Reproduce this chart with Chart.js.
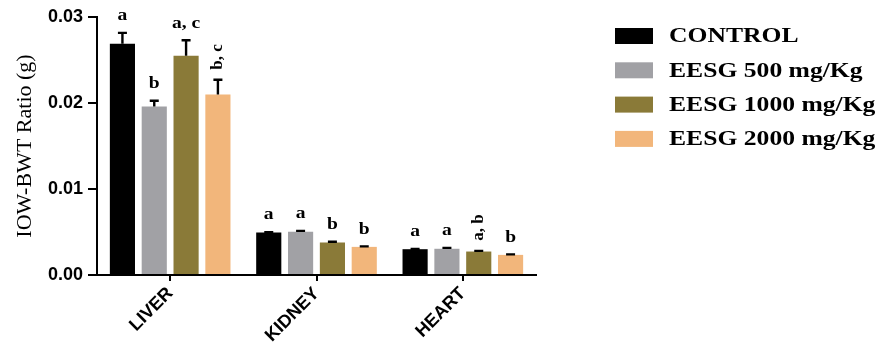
<!DOCTYPE html>
<html><head><meta charset="utf-8">
<script src="https://cdn.jsdelivr.net/npm/chart.js@4.4.0/dist/chart.umd.min.js"></script>
<style>html,body{margin:0;padding:0;background:#fff}#wrap{width:877px;height:352px;position:relative}</style>
</head><body><div id="wrap"><canvas id="c" width="877" height="352"></canvas></div>
<script>
const categories = ['LIVER', 'KIDNEY', 'HEART'];
const seriesNames = ['CONTROL', 'EESG 500 mg/Kg', 'EESG 1000 mg/Kg', 'EESG 2000 mg/Kg'];
const control  = [0.0269, 0.00495, 0.00300];
const eesg500  = [0.0196, 0.00503, 0.00305];
const eesg1000 = [0.0255, 0.00378, 0.00273];
const eesg2000 = [0.0210, 0.00327, 0.00234];
const controlErr  = [0.00125, 0.00004, 0.00003];
const eesg500Err  = [0.00066, 0.00010, 0.00010];
const eesg1000Err = [0.00180, 0.00008, 0.00008];
const eesg2000Err = [0.00170, 0.00006, 0.00006];
const controlSig  = ['a', 'a', 'a'];
const eesg500Sig  = ['b', 'a', 'a'];
const eesg1000Sig = ['a, c', 'b', 'a, b'];
const eesg2000Sig = ['b, c', 'b', 'b'];
const yTicks = [0, 0.01, 0.02, 0.03];

const colors = ['#000000', '#a1a1a5', '#8a7a38', '#f2b67b'];
const rotated = {'3-0': true, '2-2': true};
const values = [control, eesg500, eesg1000, eesg2000];
const errs = [controlErr, eesg500Err, eesg1000Err, eesg2000Err];
const sigs = [controlSig, eesg500Sig, eesg1000Sig, eesg2000Sig];

const datasets = seriesNames.map((n, i) => ({
  label: n, data: values[i], backgroundColor: colors[i], borderWidth: 0,
  errors: errs[i], sig: sigs[i],
  categoryPercentage: 0.87, barPercentage: 0.79
}));

const extras = {
  id: 'extras',
  afterDatasetsDraw(chart) {
    const ctx = chart.ctx, y = chart.scales.y;
    chart.data.datasets.forEach((ds, di) => {
      const meta = chart.getDatasetMeta(di);
      meta.data.forEach((bar, i) => {
        const top = y.getPixelForValue(ds.data[i]);
        const et = y.getPixelForValue(ds.data[i] + ds.errors[i]);
        ctx.save();
        ctx.strokeStyle = '#000'; ctx.lineWidth = 2.4;
        ctx.beginPath();
        ctx.moveTo(bar.x, top); ctx.lineTo(bar.x, et);
        ctx.moveTo(bar.x - 4.5, et); ctx.lineTo(bar.x + 4.5, et);
        ctx.stroke();
        ctx.fillStyle = '#000';
        ctx.font = 'bold 17px "Liberation Serif", "Times New Roman", serif';
        if (rotated[di + '-' + i]) {
          ctx.translate(bar.x, et - 10);
          ctx.rotate(-Math.PI / 2);
          ctx.textAlign = 'left'; ctx.textBaseline = 'middle';
          ctx.fillText(ds.sig[i], 0, 0);
        } else {
          ctx.textAlign = 'center'; ctx.textBaseline = 'middle';
          ctx.translate(bar.x, et - 17);
          ctx.scale(1.15, 1);
          ctx.fillText(ds.sig[i], 0, 0);
        }
        ctx.restore();
      });
    });
    // legend
    const lx = 615, ly0 = 36, step = 34.3;
    chart.data.datasets.forEach((ds, di) => {
      const cy = ly0 + di * step;
      ctx.save();
      ctx.fillStyle = ds.backgroundColor;
      ctx.fillRect(lx, cy - 8, 38, 16);
      ctx.fillStyle = '#000';
      ctx.font = 'bold 21px "Liberation Serif", "Times New Roman", serif';
      ctx.textAlign = 'left'; ctx.textBaseline = 'middle';
      ctx.translate(669, cy + 1);
      ctx.scale(1.22, 1);
      ctx.fillText(ds.label, 0, 0);
      ctx.restore();
    });
  }
};

new Chart(document.getElementById('c'), {
  type: 'bar',
  data: { labels: categories, datasets },
  plugins: [extras],
  options: {
    responsive: false, animation: false,
    layout: { padding: { top: 17, right: 341, left: 0, bottom: 0 } },
    plugins: { legend: { display: false }, tooltip: { enabled: false } },
    scales: {
      x: {
        afterFit(s) { s.height = 77; },
        border: { color: '#000', width: 2 },
        grid: { display: true, drawOnChartArea: false, offset: false, tickLength: 6, color: '#000', lineWidth: 2 },
        ticks: { color: '#000', maxRotation: 45, minRotation: 45, autoSkip: false, padding: 2,
          font: { family: 'Liberation Sans, Arial, sans-serif', size: 18, weight: 'bold' } }
      },
      y: {
        min: 0, max: 0.03,
        afterFit(s) { s.width = 97; },
        afterBuildTicks(s) { s.ticks = yTicks.map(v => ({ value: v })); },
        border: { color: '#000', width: 2 },
        grid: { drawOnChartArea: false, tickLength: 9, color: '#000', lineWidth: 2 },
        ticks: { color: '#000', padding: 5, callback: v => v.toFixed(2),
          font: { family: 'Liberation Sans, Arial, sans-serif', size: 18, weight: 'bold' } },
        title: { display: true, text: 'IOW-BWT Ratio (g)', color: '#000', padding: { top: 12, bottom: 0 },
          font: { family: 'Liberation Serif, Times New Roman, serif', size: 22, weight: 'normal' } }
      }
    }
  }
});
</script></body></html>
